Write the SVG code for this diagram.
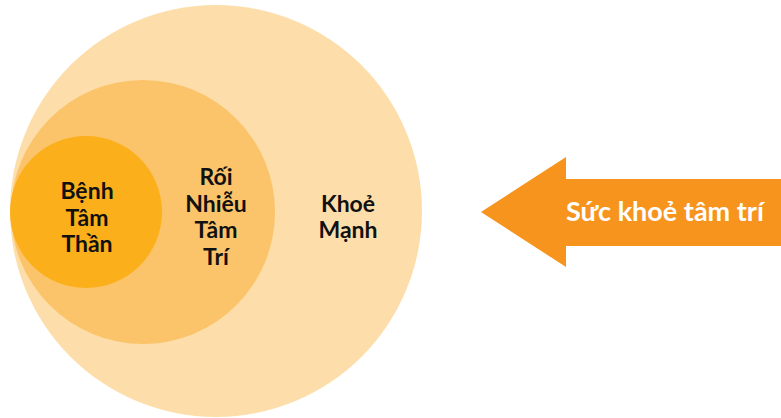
<svg xmlns="http://www.w3.org/2000/svg" width="781" height="418" viewBox="0 0 781 418">
<style>
.lbl{font-family:Lato,"Open Sans","Liberation Sans",sans-serif;font-weight:bold;font-size:23px;fill:#111;text-anchor:middle}
.arr{font-family:Lato,"Open Sans","Liberation Sans",sans-serif;font-weight:bold;font-size:27px;fill:#fff}
</style>
<rect width="781" height="418" fill="#fff"/>
<g id="khoe-manh">
<circle cx="216" cy="211" r="206" fill="#FDDEAA"/>
<text class="lbl" x="348" y="212">Khoẻ</text>
<text class="lbl" x="348" y="238">Mạnh</text>
</g>
<g id="roi-nhieu">
<circle cx="143" cy="212" r="132" fill="#FBC46A"/>
<text class="lbl" x="216" y="185">Rối</text>
<text class="lbl" x="216" y="212">Nhiễu</text>
<text class="lbl" x="216" y="238">Tâm</text>
<text class="lbl" x="216" y="265">Trí</text>
</g>
<g id="benh-tam-than">
<circle cx="86" cy="212" r="76" fill="#FBB01B"/>
<text class="lbl" x="87" y="199">Bệnh</text>
<text class="lbl" x="87" y="226">Tâm</text>
<text class="lbl" x="87" y="252">Thần</text>
</g>
<g id="arrow">
<polygon points="481,212 566,157 566,179 781,179 781,246 566,246 566,267" fill="#F7941D"/>
<text class="arr" x="566" y="221">Sức khoẻ tâm trí</text>
</g>
<g id="connectors"/>
</svg>
